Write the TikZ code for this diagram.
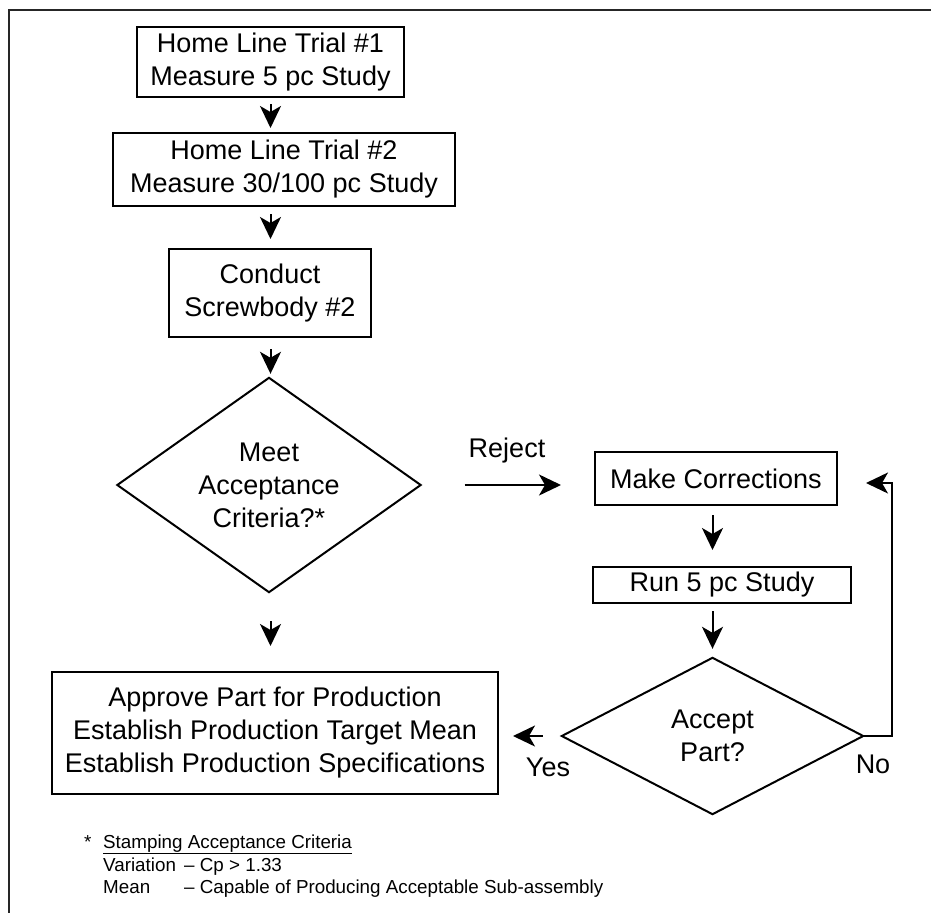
\documentclass[tikz,border=0pt]{standalone}
\usepackage{fontspec}
\setmainfont{Liberation Sans}
\usetikzlibrary{arrows.meta,calc}
\begin{document}
\begin{tikzpicture}[x=1pt,y=-1pt,
  txt/.style={font=\fontsize{27}{33}\selectfont},
  box/.style={txt, draw, line width=2pt, rectangle, inner sep=0pt, align=center},
  diabox/.style={txt, rectangle, inner sep=0pt, align=center},
  diaedge/.style={line width=2pt, line join=miter},
  arr/.style={line width=2pt, -{Stealth[length=22pt,width=21pt,inset=6pt]}},
  fn/.style={font=\fontsize{18.8}{22.5}\selectfont, inner sep=0pt, anchor=base west},
  frame/.style={line width=1.8pt, black!85}]
\useasboundingbox (0,0) rectangle (931,913);

% outer frame (top and left edges)
\draw[frame] (931,10) -- (9,10) -- (9,913);

% main column
\node[box, minimum width=267pt, minimum height=70pt] (b1) at (270.5,62)
  {Home Line Trial \#1\\Measure 5 pc Study};
\node[box, minimum width=342pt, minimum height=73pt] (b2) at (284,169.5)
  {Home Line Trial \#2\\Measure 30/100 pc Study};
\node[box, minimum width=202pt, minimum height=88pt] (b3) at (270,293)
  {Conduct\\Screwbody \#2};
\node[diabox, minimum width=303pt, minimum height=214pt] (d1) at (269,485)
  {Meet\\Acceptance\\Criteria?*};
\draw[diaedge] (d1.north) -- (d1.east) -- (d1.south) -- (d1.west) -- cycle;
\node[box, minimum width=446pt, minimum height=122pt] (ap) at (275,733)
  {Approve Part for Production\\Establish Production Target Mean\\Establish Production Specifications};

% correction loop
\node[box, minimum width=242pt, minimum height=53pt] (mc) at (716,478.5)
  {Make Corrections};
\node[box, minimum width=258pt, minimum height=36pt] (run) at (722,585)
  {Run 5 pc Study};
\node[diabox, minimum width=301pt, minimum height=156pt] (d2) at (712.5,736)
  {Accept\\Part?};
\draw[diaedge] (d2.north) -- (d2.east) -- (d2.south) -- (d2.west) -- cycle;

% connectors
\draw[arr, shorten <=6pt, shorten >=4pt] (b1.south) -- (b1.south |- b2.north);
\draw[arr, shorten <=7pt, shorten >=9pt] (b2.south -| b1) -- (b1 |- b3.north);
\draw[arr, shorten <=11pt, shorten >=4pt] (b3.south -| b1) -- (b1 |- d1.north);
\draw[arr, shorten <=29pt, shorten >=25pt] (d1.south -| b1) -- (b1 |- ap.north);
\draw[arr, shorten <=44pt, shorten >=33pt] (d1.east) -- (d1.east -| mc.west);
\draw[arr, shorten <=9pt, shorten >=16pt] (mc.south -| d2) -- (d2 |- run.north);
\draw[arr, shorten <=7pt, shorten >=9pt] (run.south -| d2) -- (d2.north);
\draw[arr, shorten <=19pt, shorten >=14pt] (d2.west) -- (d2.west -| ap.east);
\coordinate (nocorner) at (892,483);
\draw[arr, shorten >=28pt, line join=miter] (d2.east) -| (nocorner) -- (nocorner -| mc.east);

% branch labels
\node[txt, inner sep=0pt] (rej) at (507,451) {Reject};
\node[txt, inner sep=0pt] (yes) at (548,767) {Yes};
\node[txt, inner sep=0pt] (no) at (873,764) {No};

% footnote
\node[fn] (star) at (84,848) {*};
\node[fn] (fn1) at (103,848) {\underline{Stamping Acceptance Criteria}};
\node[fn] (fn2) at (103,871) {Variation};
\node[fn] (fn2b) at (184,871) {– Cp > 1.33};
\node[fn] (fn3) at (103,893) {Mean};
\node[fn] (fn3b) at (184,893) {– Capable of Producing Acceptable Sub-assembly};
\end{tikzpicture}
\end{document}
